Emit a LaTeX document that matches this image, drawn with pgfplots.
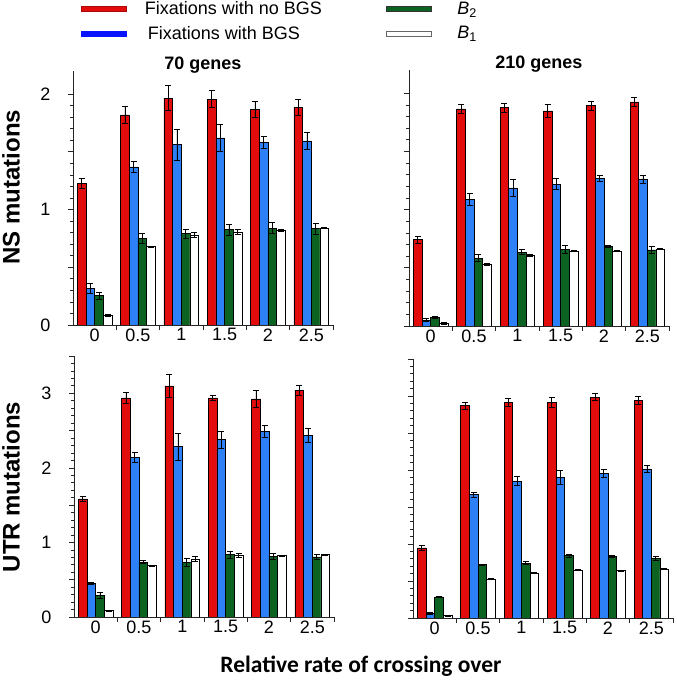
\documentclass[border=0pt]{standalone}
\usepackage{fontspec}
\setmainfont{Liberation Sans}
\newfontfamily\carlito{Carlito}
\usepackage{pgfplots}
\usepackage{pgfplotstable}
\pgfplotsset{compat=1.18}
\definecolor{cred}{RGB}{226,12,12}
\definecolor{cblue}{RGB}{45,128,245}
\definecolor{cgreen}{RGB}{12,98,32}

\pgfplotstableread{
x r re b be g ge w we
0 1.227 0.04 0.316 0.04 0.256 0.03 0.083 0.005
1 1.82 0.07 1.37 0.05 0.75 0.04 0.68 0.005
2 1.965 0.11 1.563 0.135 0.79 0.04 0.78 0.02
3 1.957 0.075 1.62 0.115 0.825 0.05 0.807 0.02
4 1.868 0.066 1.583 0.053 0.839 0.047 0.819 0.005
5 1.888 0.07 1.595 0.075 0.836 0.047 0.839 0.005
}\dataTL
\pgfplotstableread{
x r re b be g ge w we
0 0.743 0.03 0.051 0.01 0.074 0.01 0.023 0.005
1 1.866 0.04 1.089 0.05 0.583 0.03 0.529 0.005
2 1.877 0.04 1.186 0.07 0.634 0.02 0.606 0.01
3 1.849 0.055 1.22 0.047 0.66 0.035 0.643 0.005
4 1.894 0.04 1.269 0.027 0.683 0.01 0.643 0.005
5 1.926 0.04 1.257 0.035 0.654 0.03 0.66 0.005
}\dataTR
\pgfplotstableread{
x r re b be g ge w we
0 1.583 0.035 0.452 0.01 0.286 0.04 0.085 0.005
1 2.938 0.075 2.138 0.065 0.733 0.02 0.689 0.005
2 3.099 0.16 2.285 0.18 0.733 0.05 0.778 0.03
3 2.938 0.04 2.379 0.115 0.836 0.05 0.823 0.03
4 2.925 0.12 2.491 0.08 0.814 0.045 0.823 0.005
5 3.041 0.065 2.433 0.09 0.805 0.035 0.836 0.01
}\dataBL
\pgfplotstableread{
x r re b be g ge w we
0 0.946 0.03 0.063 0.01 0.284 0.005 0.032 0.005
1 2.869 0.05 1.667 0.035 0.721 0.01 0.527 0.005
2 2.914 0.06 1.851 0.063 0.739 0.02 0.608 0.005
3 2.914 0.07 1.896 0.095 0.842 0.02 0.649 0.005
4 2.986 0.045 1.955 0.05 0.833 0.01 0.64 0.005
5 2.941 0.055 2.014 0.05 0.802 0.03 0.662 0.005
}\dataBR

\pgfplotsset{
  panel/.style={
    scale only axis, width=260pt,
    axis lines*=left,
    axis line style={line width=0.8pt, black!85},
    xmin=-0.5, xmax=5.5, ymin=0,
    ybar=0pt, bar width=0.2,
    xtick={0.5,1.5,...,5.5}, xticklabels={},
    extra x ticks={0,1,2,3,4,5},
    extra x tick labels={0,0.5,1,1.5,2,2.5},
    extra x tick style={major tick length=0pt},
    tick align=outside, major tick length=5pt, minor tick length=3pt,
    tick style={line width=0.7pt, black!85},
    minor y tick num=4,
    tick label style={font=\fontsize{18}{20}\selectfont},
    yticklabel style={xshift=-14pt},
    /pgf/number format/assume math mode=true,
    title style={font=\fontsize{18}{20}\selectfont\bfseries, yshift=-12pt},
  },
  eb/.style={error bars/.cd, y dir=both, y explicit,
    error bar style={line width=0.8pt, black},
    error mark options={rotate=90, line width=0.8pt, black, mark size=3pt}},
  barR/.style={fill=cred, draw=black, line width=0.6pt, eb},
  barB/.style={fill=cblue, draw=black, line width=0.6pt, eb},
  barG/.style={fill=cgreen, draw=black, line width=0.6pt, eb},
  barW/.style={fill=white, draw=black, line width=0.6pt, eb},
}

\newcommand{\bars}[1]{%
  \addplot[barR] table[x=x, y=r, y error=re] {#1};
  \addplot[barB] table[x=x, y=b, y error=be] {#1};
  \addplot[barG] table[x=x, y=g, y error=ge] {#1};
  \addplot[barW] table[x=x, y=w, y error=we] {#1};
}

\begin{document}
\begin{tikzpicture}[x=1pt,y=1pt]
\path[use as bounding box] (0,0) rectangle (677,680);

% Top left
\begin{axis}[panel, at={(73pt,355pt)}, anchor=south west, height=254pt,
  ymax=2.2, ytick={0,0.5,1,1.5,2}, yticklabels={0,,1,,2},
  title={70 genes},
  legend columns=2, legend cell align=left,
  legend style={at={(0.02,1.29)}, anchor=north west, draw=none, fill=none,
    font=\fontsize{18}{20}\selectfont,
    row sep=6pt},
]
\addlegendimage{legend image code/.code={\draw[fill=cred, draw=cred!75!black, line width=0.5pt] (0pt,-2.5pt) rectangle (45pt,2.5pt);}}
\addlegendimage{legend image code/.code={\draw[fill=cgreen, draw=black!80, line width=0.5pt] (0pt,-2.5pt) rectangle (45pt,2.5pt);}}
\addlegendimage{legend image code/.code={\draw[fill=blue!85!cblue, draw=blue!85!cblue, line width=0.5pt] (0pt,-2.5pt) rectangle (45pt,2.5pt);}}
\addlegendimage{legend image code/.code={\draw[fill=white, draw=black!60, line width=0.5pt] (0pt,-2.5pt) rectangle (45pt,2.5pt);}}
\legend{\makebox[255pt][l]{\hspace{16pt}Fixations with no BGS}, \makebox[44pt][l]{\hspace{24pt}\textit{B}\textsubscript{2}}, \makebox[255pt][l]{\hspace{19pt}Fixations with BGS}, \makebox[44pt][l]{\hspace{24pt}\textit{B}\textsubscript{1}}}
\bars{\dataTL}
\end{axis}

% Top right
\begin{axis}[panel, at={(409pt,354pt)}, anchor=south west, height=256pt,
  ymax=2.2, ytick={0,0.5,1,1.5,2}, yticklabels={},
  title={210 genes},
]
\bars{\dataTR}
\end{axis}

% Bottom left
\begin{axis}[panel, at={(74pt,63pt)}, anchor=south west, height=261pt,
  ymax=3.5, ytick={0,0.5,...,3.5}, yticklabels={0,,1,,2,,3,},
]
\bars{\dataBL}
\end{axis}

% Bottom right
\begin{axis}[panel, at={(413pt,62pt)}, anchor=south west, height=259pt,
  ymax=3.5, ytick={0,0.5,...,3.5}, yticklabels={},
]
\bars{\dataBR}
\end{axis}

\node[rotate=90, font=\fontsize{24}{26}\selectfont\bfseries] at (11,493) {NS mutations};
\node[rotate=90, font=\fontsize{24}{26}\selectfont\bfseries] at (11,193) {UTR mutations};
\node[font=\fontsize{23.5}{26}\selectfont\carlito\bfseries] at (361,14) {Relative rate of crossing over};
\end{tikzpicture}
\end{document}
